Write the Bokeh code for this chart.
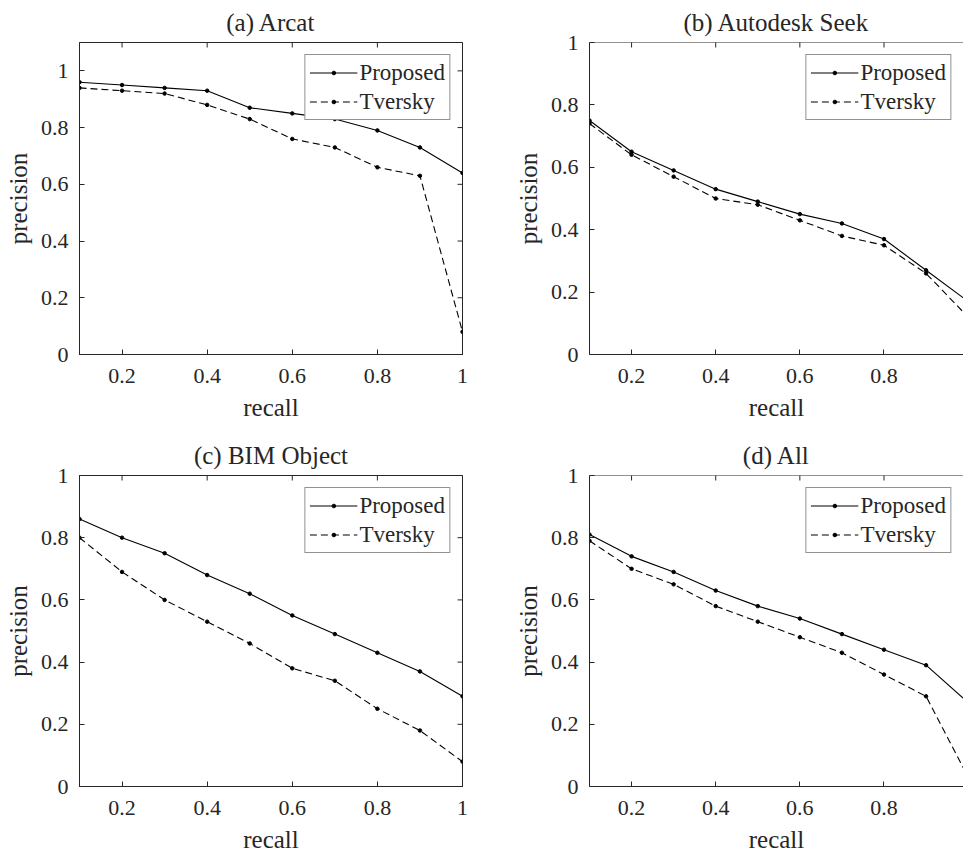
import math
from bokeh.plotting import figure
from bokeh.layouts import column, row
from bokeh.models import (FixedTicker, CustomJSTickFormatter, Legend,
                          LegendItem, Range1d, Span)
from bokeh.embed import file_html
from bokeh.resources import INLINE

# ---------------- data ----------------
recall = [0.1, 0.2, 0.3, 0.4, 0.5, 0.6, 0.7, 0.8, 0.9, 1.0]

titles = ["(a) Arcat", "(b) Autodesk Seek", "(c) BIM Object", "(d) All"]
series_names = ["Proposed", "Tversky"]

proposed_arcat = [0.96, 0.95, 0.94, 0.93, 0.87, 0.85, 0.83, 0.79, 0.73, 0.64]
tversky_arcat = [0.94, 0.93, 0.92, 0.88, 0.83, 0.76, 0.73, 0.66, 0.63, 0.08]

proposed_seek = [0.75, 0.65, 0.59, 0.53, 0.49, 0.45, 0.42, 0.37, 0.27, 0.17]
tversky_seek = [0.74, 0.64, 0.57, 0.50, 0.48, 0.43, 0.38, 0.35, 0.26, 0.12]

proposed_bim = [0.86, 0.80, 0.75, 0.68, 0.62, 0.55, 0.49, 0.43, 0.37, 0.29]
tversky_bim = [0.80, 0.69, 0.60, 0.53, 0.46, 0.38, 0.34, 0.25, 0.18, 0.08]

proposed_all = [0.81, 0.74, 0.69, 0.63, 0.58, 0.54, 0.49, 0.44, 0.39, 0.27]
tversky_all = [0.79, 0.70, 0.65, 0.58, 0.53, 0.48, 0.43, 0.36, 0.29, 0.03]

x_ticks = [0.2, 0.4, 0.6, 0.8, 1.0]
y_ticks = [0.0, 0.2, 0.4, 0.6, 0.8, 1.0]

# ---------------- style ----------------
FONT = "Liberation Serif"
AX = "#262626"
FMT_CODE = "var s = tick.toFixed(1); return s.endsWith('.0') ? s.slice(0, -2) : s;"


def style_axis(ax, ticks, label, standoff, label_standoff):
    ax.ticker = FixedTicker(ticks=ticks)
    ax.formatter = CustomJSTickFormatter(code=FMT_CODE)
    ax.major_tick_in = 5
    ax.major_tick_out = 0
    ax.minor_tick_in = 0
    ax.minor_tick_out = 0
    ax.axis_line_color = AX
    ax.axis_line_width = 1
    ax.major_tick_line_color = AX
    ax.major_label_text_font = FONT
    ax.major_label_text_color = AX
    ax.major_label_text_font_size = "22px"
    ax.major_label_standoff = standoff
    ax.axis_label = label
    ax.axis_label_text_font = FONT
    ax.axis_label_text_font_size = "25px"
    ax.axis_label_text_font_style = "normal"
    ax.axis_label_text_color = AX
    ax.axis_label_standoff = label_standoff


def panel(title, prop, tver, ymax, xend, width, height, bl, br, bt, bb, full_box):
    p = figure(width=width, height=height,
               x_range=Range1d(0.1, xend), y_range=Range1d(0, ymax),
               output_backend="svg", toolbar_location=None,
               min_border_left=bl, min_border_right=br,
               min_border_top=bt, min_border_bottom=bb,
               title=title)
    p.title.text_font = FONT
    p.title.text_font_size = "25px"
    p.title.text_font_style = "normal"
    p.title.text_color = AX
    p.title.align = "center"
    p.title.standoff = 13
    p.xgrid.visible = False
    p.ygrid.visible = False
    p.background_fill_color = "white"
    p.border_fill_color = "white"

    style_axis(p.xaxis[0], x_ticks, "recall", 14, 8)
    style_axis(p.yaxis[0], y_ticks, "precision", 11, 6)

    # box: full outline on left plots, top edge only on right (cropped) plots
    if full_box:
        p.outline_line_color = AX
        p.outline_line_width = 1
    else:
        p.outline_line_color = None
        p.add_layout(Span(location=ymax, dimension="width",
                          line_color=AX, line_width=1))

    # mirrored inward ticks on the top (and right) edges; half clipped by the frame
    top_x = [t for t in x_ticks if t <= xend]
    p.scatter(top_x, [ymax] * len(top_x), marker="dash", angle=math.pi / 2,
              size=10, line_color=AX, line_width=1)
    if full_box:
        p.scatter([xend] * len(y_ticks), y_ticks, marker="dash",
                  size=10, line_color=AX, line_width=1)

    l1 = p.line(recall, prop, line_color="black", line_width=1.1)
    s1 = p.scatter(recall, prop, size=3.5, color="black")
    l2 = p.line(recall, tver, line_color="black", line_width=1.1, line_dash="7 4")
    s2 = p.scatter(recall, tver, size=3.5, color="black")

    leg = Legend(items=[LegendItem(label=series_names[0], renderers=[l1, s1]),
                        LegendItem(label=series_names[1], renderers=[l2, s2])],
                 location="top_right")
    leg.margin = 12
    leg.padding = 4
    leg.spacing = 2
    leg.glyph_width = 48
    leg.glyph_height = 9
    leg.label_height = 27
    leg.label_standoff = 2
    leg.label_text_font = FONT
    leg.label_text_font_size = "23px"
    leg.label_text_color = AX
    leg.border_line_color = AX
    leg.border_line_width = 1
    leg.background_fill_color = "white"
    leg.background_fill_alpha = 1
    p.add_layout(leg)
    return p


pa = panel(titles[0], proposed_arcat, tversky_arcat, 1.1, 1.0, 511, 431, 79, 49, 42, 77, True)
pb = panel(titles[1], proposed_seek, tversky_seek, 1.0, 0.989, 452, 431, 71, 0, 42, 77, False)
pc = panel(titles[2], proposed_bim, tversky_bim, 1.0, 1.0, 511, 425, 79, 49, 44, 70, True)
pd = panel(titles[3], proposed_all, tversky_all, 1.0, 0.989, 452, 425, 71, 0, 44, 70, False)

layout = column(row(pa, pb), row(pc, pd))

open("out.html", "w").write(file_html(layout, INLINE))
